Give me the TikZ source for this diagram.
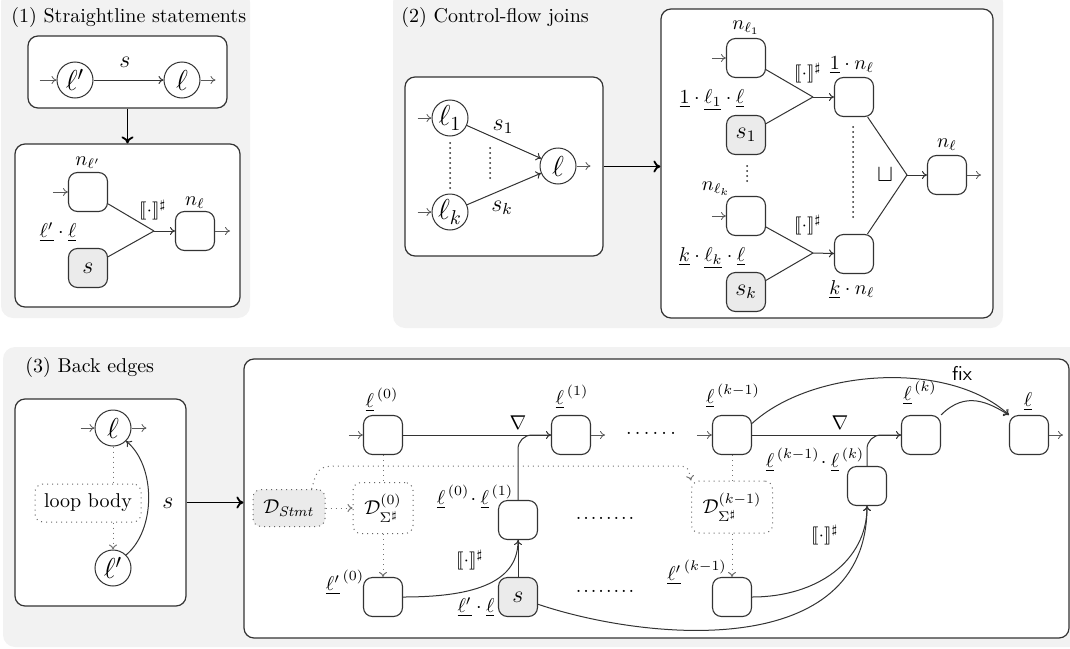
\documentclass[tikz,border=0pt]{standalone}
\usepackage{amsmath,amssymb,stmaryrd}
\usetikzlibrary{arrows.meta,calc}
\newcommand{\semop}{\llbracket\cdot\rrbracket^{\sharp}}
\newcommand{\ul}[1]{\underline{#1}}
\begin{document}
\begin{tikzpicture}[x=0.5pt,y=-0.5pt,
  panel/.style={fill=black!5, draw=none, rounded corners=6pt},
  frame/.style={draw=black!80, fill=white, rounded corners=5pt, line width=0.6pt, inner sep=0pt},
  loc/.style={circle, draw=black!80, line width=0.5pt, minimum size=18pt, inner sep=0pt, font=\Large},
  nbox/.style={draw=black!80, line width=0.55pt, rounded corners=4.5pt, minimum size=19.5pt, inner sep=0pt, fill=white},
  sbox/.style={nbox, fill=black!8, font=\large},
  dotbox/.style={draw=black!60, dotted, line width=0.5pt, rounded corners=4pt, inner sep=0pt},
  stub/.style={draw=black!65, line width=0.4pt, -{To[length=2.5pt,width=4pt]}},
  edgel/.style={draw=black!80, line width=0.5pt},
  edgea/.style={edgel, -{To[length=2.5pt,width=4pt]}},
  bigarr/.style={draw=black, line width=0.9pt, -{To[length=3.5pt,width=6pt]}},
  dotl/.style={draw=black!55, dotted, line width=0.5pt},
  dota/.style={dotl, -{To[length=2.5pt,width=4pt]}},
  dotcol/.style={draw=black!85, line width=1pt, dash pattern=on 0pt off 2.5pt, line cap=round},
  lab/.style={inner sep=0pt}
]
\useasboundingbox (0,0) rectangle (1070,648);
% panels
\fill[panel] (1,-10) rectangle (250,318);
\fill[panel] (393,-10) rectangle (1003,328);
\fill[panel] (3,347) rectangle (1085,647);
% frames
\node[frame, minimum width=99.5pt, minimum height=36pt] (f1a) at (127.5,72) {};
\node[frame, minimum width=112.5pt, minimum height=81.5pt] (f1b) at (127.5,225.5) {};
\node[frame, minimum width=99pt, minimum height=89.5pt] (f2a) at (504,166.5) {};
\node[frame, minimum width=166pt, minimum height=154.5pt] (f2b) at (827,163.5) {};
\node[frame, minimum width=85.5pt, minimum height=103.5pt] (f3a) at (100.5,502.5) {};
\node[frame, minimum width=412.5pt, minimum height=139.5pt] (f3b) at (656.5,498.5) {};
% titles
\node[anchor=base west, inner sep=0pt] (t1) at (11,22) {(1) Straightline statements};
\node[anchor=base west, inner sep=0pt] (t2) at (401,22) {(2) Control-flow joins};
\node[anchor=base west, inner sep=0pt] (t3) at (25,372) {(3) Back edges};

% ---------- panel 1
\node[loc] (p1a) at (75,80) {$\ell'$};
\node[loc] (p1b) at (182,80) {$\ell$};
\draw[stub] ($(p1a.west)+(-17,0)$) -- (p1a.west);
\draw[edgea] (p1a) -- (p1b);
\node[lab, font=\large] (p1sl) at (125,62) {$s$};
\draw[stub] (p1b.east) -- ++(15,0);
\draw[bigarr] (f1a.south) -- (f1b.north);
\node[nbox] (p1n) at (88,192) {};
\node[sbox] (p1s) at (88,268) {$s$};
\coordinate (p1j) at (154,231);
\node[nbox] (p1m) at (195,231) {};
\draw[stub] ($(p1n.west)+(-15,0)$) -- (p1n.west);
\draw[edgel] (p1n) -- (p1j);
\draw[edgel] (p1s) -- (p1j);
\draw[edgea] (p1j) -- (p1m);
\draw[stub] (p1m.east) -- ++(15,0);
\node[lab] (p1l1) at (88,163) {$n_{\ell'}$};
\node[lab] (p1l2) at (58,232) {$\ul{\ell'}\cdot\ul{\ell}$};
\node[lab, font=\small] (p1l3) at (153,210) {$\semop$};
\node[lab] (p1l4) at (195,203) {$n_\ell$};

% ---------- panel 2
\node[loc] (q1) at (450,118) {$\ell_1$};
\node[loc] (qk) at (450,212) {$\ell_k$};
\node[loc] (ql) at (558,166) {$\ell$};
\draw[stub] ($(q1.west)+(-14,0)$) -- (q1.west);
\draw[stub] ($(qk.west)+(-14,0)$) -- (qk.west);
\draw[edgea] (q1) -- (ql);
\draw[edgea] (qk) -- (ql);
\draw[stub] (ql.east) -- ++(14,0);
\node[lab, font=\large] (qs1) at (503,127) {$s_1$};
\node[lab, font=\large] (qsk) at (502,208) {$s_k$};
\draw[dotcol] (450,143) -- (450,190);
\draw[dotcol] (490,148) -- (490,182);
\draw[bigarr] (f2a.east) -- (f2a.east -| f2b.west);

\node[nbox] (r1) at (746,58) {};
\node[sbox] (rs1) at (746,135) {$s_1$};
\node[nbox] (rk) at (746,216) {};
\node[sbox] (rsk) at (746,292) {$s_k$};
\coordinate (rj1) at (813,97);
\coordinate (rjk) at (813,253);
\node[nbox] (rm1) at (854,97) {};
\node[nbox] (rmk) at (854,254) {};
\coordinate (rj) at (907,175);
\node[nbox] (rf) at (947,175) {};
\draw[stub] ($(r1.west)+(-14,0)$) -- (r1.west);
\draw[stub] ($(rk.west)+(-14,0)$) -- (rk.west);
\draw[edgel] (r1) -- (rj1);
\draw[edgel] (rs1) -- (rj1);
\draw[edgea] (rj1) -- (rm1);
\draw[edgel] (rk) -- (rjk);
\draw[edgel] (rsk) -- (rjk);
\draw[edgea] (rjk) -- (rmk);
\draw[edgel] (rm1) -- (rj);
\draw[edgel] (rmk) -- (rj);
\draw[edgea] (rj) -- (rf);
\draw[stub] (rf.east) -- ++(14,0);
\draw[dotcol] (853,127) -- (853,220);
\node[lab] (rl1) at (746,28) {$n_{\ell_1}$};
\node[lab] (rl2) at (712,100) {$\ul{1}\cdot\ul{\ell_1}\cdot\ul{\ell}$};
\draw[dotcol] (747,166) -- (747,183);
\node[lab] (rl4) at (716,189) {$n_{\ell_k}$};
\node[lab] (rl5) at (712,258) {$\ul{k}\cdot\ul{\ell_k}\cdot\ul{\ell}$};
\node[lab, font=\small] (rl6) at (808,73) {$\semop$};
\node[lab, font=\small] (rl7) at (808,225) {$\semop$};
\node[lab] (rl8) at (852,65) {$\ul{1}\cdot n_\ell$};
\node[lab] (rl9) at (852,290) {$\ul{k}\cdot n_\ell$};
\node[lab, font=\large] (rl10) at (885,175) {$\sqcup$};
\node[lab] (rl11) at (947,145) {$n_\ell$};

% ---------- panel 3 left
\node[loc] (u1) at (113,428) {$\ell$};
\node[loc] (u2) at (113,568) {$\ell'$};
\node[dotbox, minimum width=53pt, minimum height=19pt] (ub) at (88,503) {loop body};
\draw[stub] ($(u1.west)+(-14,0)$) -- (u1.west);
\draw[stub] (u1.east) -- ++(15,0);
\draw[dotl] (u1.south) -- (u1.south |- ub.north);
\draw[dota] (u2.north |- ub.south) -- (u2.north);
\draw[edgea] (u2.45) .. controls +(30,-25) and +(30,25) .. (u1.-45);
\node[lab, font=\large] (us) at (168,503) {$s$};
\draw[bigarr] (f3a.east) -- (f3a.east -| f3b.west);

% ---------- panel 3 right
\node[nbox] (v0) at (383,435) {};
\node[dotbox, fill=black!8, minimum width=36pt, minimum height=18.5pt] (vds) at (289,508) {$\mathcal{D}_{\mathit{Stmt}}$};
\node[dotbox, minimum width=30pt, minimum height=25.5pt] (vd0) at (383,508) {$\mathcal{D}^{(0)}_{\Sigma^\sharp}$};
\node[nbox] (w0) at (383,597) {};
\node[nbox] (vm1) at (518,520) {};
\node[sbox] (vs) at (518,597) {$s$};
\node[nbox] (v1) at (571,435) {};
\node[nbox] (vk1) at (732,435) {};
\node[dotbox, minimum width=40.5pt, minimum height=26pt] (vdk) at (732,507) {$\mathcal{D}^{(k-1)}_{\Sigma^\sharp}$};
\node[nbox] (wk) at (732,597) {};
\node[nbox] (vmk) at (867,486) {};
\node[nbox] (vk) at (921,435) {};
\node[nbox] (vf) at (1029,435) {};

\draw[stub] ($(v0.west)+(-14,0)$) -- (v0.west);
\draw[edgea] (v0) -- (v1);
\draw[edgel, rounded corners=7pt] (vm1.north) |- (v1.west);
\draw[dotl] (v0.south) -- (vd0.north);
\draw[dota] (vd0.south) -- (w0.north);
\draw[dota] (vds) -- (vd0);
\draw[edgea] (w0.east) .. controls +(65,0) and +(0,45) .. (vm1.south);
\draw[edgel] (vs) -- (vm1);
\draw[stub] (v1.east) -- ++(14,0);
\draw[stub] ($(vk1.west)+(-15,0)$) -- (vk1.west);
\draw[dotl] (vk1.south) -- (vdk.north);
\draw[dota] (vdk.south) -- (wk.north);
\draw[edgea] (vk1) -- (vk);
\draw[edgel, rounded corners=7pt] (vmk.north) |- (vk.west);
\draw[edgea] (vk.north east) .. controls +(25,-25) and +(-20,-12) .. (vf.north west);
\draw[edgea] (vk1.30) .. controls +(60,-55) and +(-60,-55) .. (vf.north west);
\draw[edgea] (wk.east) .. controls +(65,0) and +(0,55) .. (vmk.south);
\draw[edgea] (vs.-20) .. controls +(110,37) and +(0,155) .. (vmk.south);
\draw[stub] (vf.east) -- ++(14,0);
\coordinate (h1) at (345,466);
\coordinate (h2) at (673,466);
\draw[dota] (vds.40) .. controls (318,466) .. (h1) -- (h2) .. controls (688,466) .. (vdk.north west);

\node[lab] (x1) at (382,400) {$\ul{\ell}^{\,(0)}$};
\node[lab] (x2) at (345,582) {$\ul{\ell'}^{\,(0)}$};
\node[lab] (x3) at (475,497) {$\ul{\ell}^{\,(0)}\!\cdot\ul{\ell}^{\,(1)}$};
\node[lab] (x4) at (476,607) {$\ul{\ell'}\cdot\ul{\ell}$};
\node[lab, font=\small] (x5) at (470,560) {$\semop$};
\node[lab] (x6) at (518,423) {$\nabla$};
\node[lab] (x7) at (572,397) {$\ul{\ell}^{\,(1)}$};
\node[lab] (x8) at (651,433) {$\ldots\ldots$};
\node[lab] (x9) at (605,518) {.\kern1pt.\kern1pt.\kern1pt.\kern1pt.\kern1pt.\kern1pt.\kern1pt.};
\node[lab] (x10) at (605,591) {.\kern1pt.\kern1pt.\kern1pt.\kern1pt.\kern1pt.\kern1pt.\kern1pt.};
\node[lab] (x11) at (733,396) {$\ul{\ell}^{\,(k-1)}$};
\node[lab] (x12) at (697,572) {$\ul{\ell'}^{\,(k-1)}$};
\node[lab] (x13) at (815,460) {$\ul{\ell}^{\,(k-1)}\!\cdot\ul{\ell}^{\,(k)}$};
\node[lab] (x14) at (920,393) {$\ul{\ell}^{\,(k)}$};
\node[lab] (x15) at (1028,402) {$\ul{\ell}$};
\node[lab] (x16) at (840,423) {$\nabla$};
\node[lab] (x17) at (962,373) {\textsf{fix}};
\node[lab, font=\small] (x18) at (825,535) {$\semop$};
\end{tikzpicture}
\end{document}
